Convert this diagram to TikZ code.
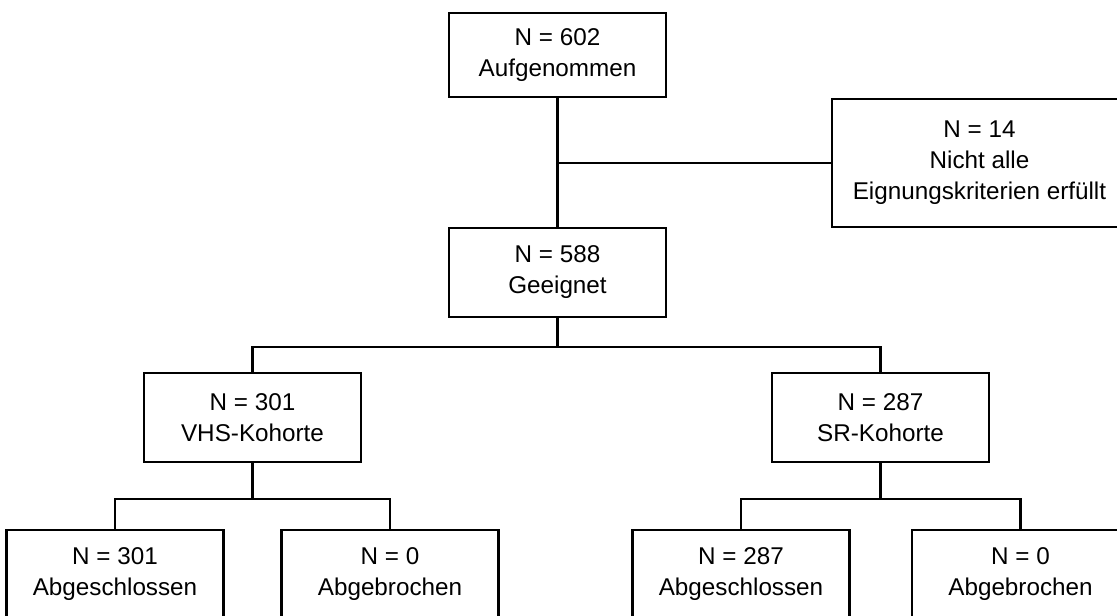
\documentclass[tikz,border=0pt]{standalone}
\usepackage{fontspec}
\setmainfont{Liberation Sans}
\begin{document}
\begin{tikzpicture}[x=0.02cm, y=-0.02cm,
			stufe/.style={draw, line width=1.5pt, rectangle, align=center, minimum width=4.34cm, minimum height=1.78cm, font=\fontsize{13.8}{17.6}\selectfont},
			linie/.style={line width=1.3pt}]

			\useasboundingbox (0,0) rectangle (1117,616);

			%boxes
			\node[stufe, minimum height=1.68cm] (aufg) at (557.5,55) {N = 602\\Aufgenommen};

			\node[stufe, minimum width=5.9cm, minimum height=2.56cm] (nicht) at (979.5,163) {N = 14\\Nicht alle\\Eignungskriterien erfüllt};

			\node[stufe] (geeig) at (557.5,272.5) {N = 588\\Geeignet};

			\node[stufe] (vhs) at (252.5,417.5) {N = 301\\VHS-Kohorte};

			\node[stufe] (sr) at (880.5,417.5) {N = 287\\SR-Kohorte};

			\node[stufe] (vhsab) at (115,574.5) {N = 301\\Abgeschlossen};

			\node[stufe] (vhsbr) at (390,574.5) {N = 0\\Abgebrochen};

			\node[stufe] (srab) at (741,574.5) {N = 287\\Abgeschlossen};

			\node[stufe] (srbr) at (1020.5,574.5) {N = 0\\Abgebrochen};

			%lines
			\coordinate (abzw) at (aufg.south |- nicht.west);

			\coordinate (teil) at (557.5,347);

			\coordinate (vhsteil) at (vhs.south |- 0,499);

			\coordinate (srteil) at (sr.south |- 0,499);

			\draw[linie] (aufg.south) -- (geeig.north);

			\draw[linie] (nicht.west) -- (abzw);

			\draw[linie] (geeig.south) -- (teil);

			\draw[linie] (vhs.north) |- (teil) -| (sr.north);

			\draw[linie] (vhs.south) -- (vhsteil);

			\draw[linie] (vhsab.north) |- (vhsteil) -| (vhsbr.north);

			\draw[linie] (sr.south) -- (srteil);

			\draw[linie] (srab.north) |- (srteil) -| (srbr.north);
\end{tikzpicture}
\end{document}
